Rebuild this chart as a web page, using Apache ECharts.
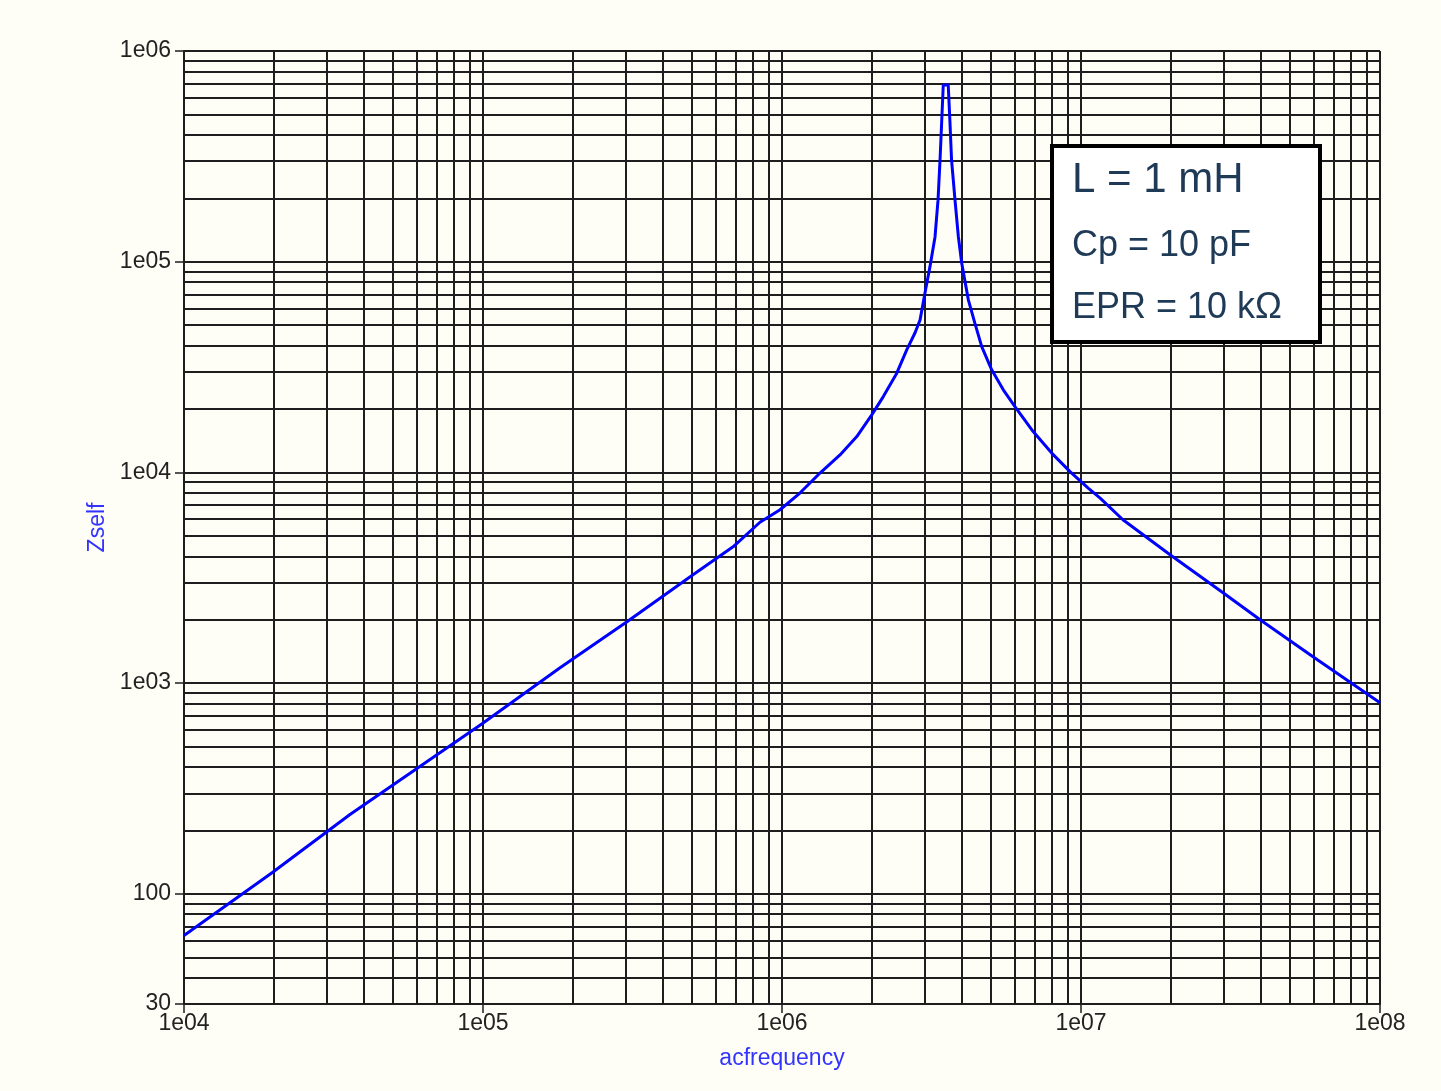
<!DOCTYPE html>
<html>
<head>
<meta charset="utf-8">
<script src="https://cdn.jsdelivr.net/npm/echarts@6/dist/echarts.min.js"></script>
<style>
html,body{margin:0;padding:0;background:#fefef6;}
#chart{width:1441px;height:1091px;}
</style>
</head>
<body>
<div id="chart"></div>
<script>
// Data
const freq = [1e4, 1.97e4, 3.59e4, 9.93e4, 1.81e5, 3.03e5, 5.04e5, 6.86e5, 8.44e5, 9.85e5,
  1.148e6, 1.340e6, 1.563e6, 1.779e6, 1.996e6, 2.182e6, 2.420e6, 2.613e6, 2.786e6, 2.896e6,
  3.007e6, 3.124e6, 3.249e6, 3.325e6, 3.377e6, 3.42e6, 3.462e6, 3.597e6, 3.645e6, 3.69e6,
  3.79e6, 3.89e6, 3.99e6, 4.20e6, 4.416e6, 4.656e6, 5.027e6, 5.497e6, 6.013e6, 6.918e6,
  7.98e6, 9.19e6, 1.057e7, 1.159e7, 1.381e7, 1.986e7, 2.986e7, 3.972e7, 5.97e7, 1e8];
const zself = [63.4, 126, 238, 642, 1183, 1955, 3270, 4436, 5800, 6650,
  7980, 9930, 12110, 14800, 18760, 22900, 29580, 38170, 46000, 52950,
  71100, 94500, 131000, 196000, 304000, 460000, 690000, 690000, 460000, 304000,
  196000, 131000, 98700, 65900, 51100, 39560, 30670, 24650, 20540, 15630,
  12350, 10090, 8430, 7550, 5960, 4066, 2685, 1999, 1334, 807];

const xDecades = [1e4, 1e5, 1e6, 1e7, 1e8];
const xTickLabels = ['1e04', '1e05', '1e06', '1e07', '1e08'];
const yTicks = [30, 100, 1e3, 1e4, 1e5, 1e6];
const yTickLabels = ['30', '100', '1e03', '1e04', '1e05', '1e06'];
const annotation = ['L = 1 mH', 'Cp = 10 pF', 'EPR = 10 kΩ'];

// minor grid positions (2..9 x each decade)
const xMinor = [];
for (let d = 0; d < xDecades.length - 1; d++) {
  for (let k = 2; k <= 9; k++) xMinor.push(k * xDecades[d]);
}
const yMinor = [40, 50, 60, 70, 80, 90];
for (let e = 2; e <= 5; e++) {
  for (let k = 2; k <= 9; k++) yMinor.push(k * Math.pow(10, e));
}

function nearestLabel(v, ticks, labels) {
  let best = 0, bd = Infinity;
  for (let i = 0; i < ticks.length; i++) {
    const d = Math.abs(Math.log10(v) - Math.log10(ticks[i]));
    if (d < bd) { bd = d; best = i; }
  }
  return bd < 0.01 ? labels[best] : '';
}

const gridColor = '#1e1e1e';
const fontFam = '"Liberation Sans", Arial, sans-serif';
const chart = echarts.init(document.getElementById('chart'));
const option = {
  backgroundColor: '#fefef6',
  animation: false,
  grid: { left: 184, right: 61, top: 51, bottom: 87, containLabel: false },
  xAxis: {
    type: 'log', logBase: 10, min: 1e4, max: 1e8, splitNumber: 4,
    name: 'acfrequency', nameLocation: 'middle', nameGap: 43,
    nameTextStyle: { color: '#3333ff', fontSize: 23, fontFamily: fontFam },
    axisLine: { show: true, lineStyle: { color: gridColor, width: 2 } },
    axisTick: { show: true, length: 9, lineStyle: { color: gridColor, width: 1.5 } },
    axisLabel: { color: '#222', fontSize: 23, margin: 8, fontFamily: fontFam,
      formatter: v => nearestLabel(v, xDecades, xTickLabels) },
    splitLine: { show: true, lineStyle: { color: gridColor, width: 2 } },
    minorTick: { show: false }, minorSplitLine: { show: false }
  },
  yAxis: {
    type: 'log', logBase: 10, min: 30, max: 1e6,
    name: 'Zself', nameLocation: 'middle', nameGap: 75, nameRotate: 90,
    nameTextStyle: { color: '#3333ff', fontSize: 23, fontFamily: fontFam },
    axisLine: { show: true, lineStyle: { color: gridColor, width: 2 } },
    axisTick: { show: true, length: 9, lineStyle: { color: gridColor, width: 1.5 } },
    axisLabel: { color: '#222', fontSize: 23, margin: 13, fontFamily: fontFam,
      formatter: v => nearestLabel(v, yTicks, yTickLabels) },
    splitLine: { show: true, lineStyle: { color: gridColor, width: 2 } },
    minorTick: { show: false }, minorSplitLine: { show: false }
  },
  series: [
    {
      type: 'line', name: 'grid', silent: true, z: 1,
      data: [[1e4, 30], [1e8, 1e6]],
      showSymbol: false, symbol: 'none',
      lineStyle: { opacity: 0, width: 0 },
      markLine: {
        silent: true, symbol: ['none', 'none'], animation: false,
        label: { show: false },
        lineStyle: { color: gridColor, width: 2, type: 'solid' },
        emphasis: { disabled: true },
        data: xMinor.map(v => ({ xAxis: v })).concat(yMinor.map(v => ({ yAxis: v })))
      }
    },
    {
      type: 'line', name: 'Zself', z: 5,
      data: freq.map((f, i) => [f, zself[i]]),
      showSymbol: false, symbol: 'none', smooth: false,
      lineStyle: { color: '#0000ff', width: 3 },
      clip: true
    }
  ],
  graphic: [
    { type: 'rect', zlevel: 1, z: 100, shape: { x: 1052, y: 146, width: 268, height: 196 },
      style: { fill: '#ffffff', stroke: '#000000', lineWidth: 4 } },
    { type: 'text', zlevel: 1, z: 101, x: 1072, y: 180, style: { text: annotation[0], fill: '#1f3a56',
      font: '42px ' + fontFam, textVerticalAlign: 'middle' } },
    { type: 'text', zlevel: 1, z: 101, x: 1072, y: 246, style: { text: annotation[1], fill: '#1f3a56',
      font: '36px ' + fontFam, textVerticalAlign: 'middle' } },
    { type: 'text', zlevel: 1, z: 101, x: 1072, y: 308, style: { text: annotation[2], fill: '#1f3a56',
      font: '36px ' + fontFam, textVerticalAlign: 'middle' } }
  ]
};
chart.setOption(option);
</script>
</body>
</html>
